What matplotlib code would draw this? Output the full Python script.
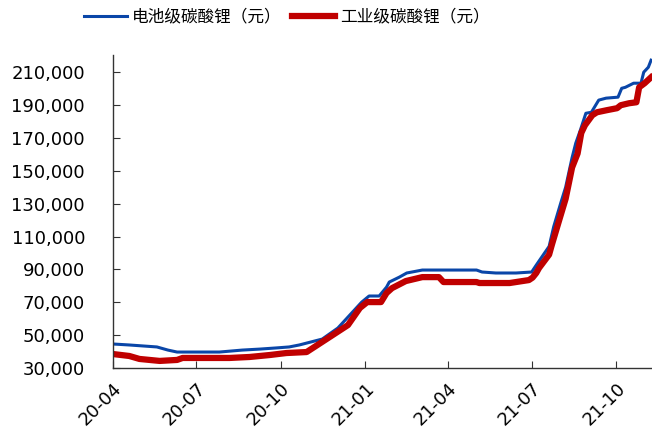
import matplotlib
matplotlib.use("Agg")
import matplotlib.pyplot as plt
import matplotlib.dates as mdates
import pandas as pd

plt.rcParams["font.family"] = ["DejaVu Sans"]

# 电池级碳酸锂 (battery grade)
blue_dates = ["2020-04-01", "2020-04-19", "2020-05-04", "2020-05-19", "2020-05-31",
              "2020-06-10", "2020-07-26", "2020-08-20", "2020-09-08", "2020-09-26",
              "2020-10-10", "2020-10-21", "2020-11-15", "2020-12-02", "2020-12-17",
              "2020-12-28", "2021-01-05", "2021-01-16", "2021-01-24", "2021-01-27",
              "2021-02-07", "2021-02-15", "2021-03-04", "2021-05-02", "2021-05-08",
              "2021-05-23", "2021-06-14", "2021-07-01", "2021-07-06", "2021-07-12",
              "2021-07-20", "2021-07-25", "2021-08-02", "2021-08-07", "2021-08-14",
              "2021-08-18", "2021-08-23", "2021-08-29", "2021-09-04", "2021-09-12",
              "2021-09-20", "2021-10-03", "2021-10-07", "2021-10-11", "2021-10-20",
              "2021-10-28", "2021-10-31", "2021-11-05", "2021-11-08"]
blue_vals = [44600, 44000, 43400, 42800, 40900,
             39700, 39700, 40900, 41500, 42200,
             42800, 44000, 47600, 54300, 63400,
             70100, 73800, 73800, 79200, 82300,
             85300, 87800, 89600, 89600, 88400,
             87800, 87800, 88400, 92600, 97500,
             104000, 116000, 131000, 140000, 158000,
             166800, 174700, 185000, 185600, 193000,
             194200, 194800, 200200, 200800, 203300,
             203300, 210000, 213000, 217300]

# 工业级碳酸锂 (industrial grade)
red_dates = ["2020-04-01", "2020-04-19", "2020-04-30", "2020-05-22", "2020-06-10",
             "2020-06-16", "2020-08-06", "2020-08-28", "2020-09-19", "2020-10-07",
             "2020-10-29", "2020-11-23", "2020-12-13", "2020-12-26", "2021-01-03",
             "2021-01-18", "2021-01-24", "2021-01-30", "2021-02-14", "2021-03-04",
             "2021-03-22", "2021-03-27", "2021-05-02", "2021-05-05", "2021-06-07",
             "2021-06-28", "2021-07-02", "2021-07-06", "2021-07-09", "2021-07-20",
             "2021-07-23", "2021-07-31", "2021-08-07", "2021-08-14", "2021-08-20",
             "2021-08-24", "2021-08-28", "2021-09-05", "2021-09-10", "2021-09-21",
             "2021-10-02", "2021-10-06", "2021-10-15", "2021-10-23", "2021-10-26",
             "2021-11-01", "2021-11-08"]
red_vals = [38500, 37300, 35500, 34300, 34900,
            36100, 36100, 36700, 37900, 39100,
            39700, 48800, 56100, 66500, 70100,
            70100, 75600, 78600, 82900, 85300,
            85300, 82300, 82300, 81700, 81700,
            83500, 85000, 87800, 90800, 99000,
            105000, 120000, 133000, 152000, 160500,
            173000, 177700, 183800, 185600, 186900,
            188100, 189900, 191100, 191700, 200800,
            203300, 206900]

yticks = list(range(30000, 220000, 20000))
xticks = ["2020-04-01", "2020-07-01", "2020-10-01", "2021-01-01",
          "2021-04-01", "2021-07-01", "2021-10-01"]

fig = plt.figure(figsize=(6.52, 4.36), dpi=100)
ax = fig.add_axes([0.173, 0.156, 0.827, 0.718])

l1, = ax.plot(pd.to_datetime(blue_dates), blue_vals, color="#0A46A8", lw=2.2,
              label="电池级碳酸锂（元）")
l2, = ax.plot(pd.to_datetime(red_dates), red_vals, color="#C00000", lw=4.5,
              label="工业级碳酸锂（元）")

ax.set_xlim(pd.Timestamp("2020-04-01"), pd.Timestamp("2021-11-09"))
ax.set_ylim(30000, 220500)
ax.set_yticks(yticks)
ax.yaxis.set_major_formatter(matplotlib.ticker.FuncFormatter(lambda v, p: f"{int(v):,}"))
ax.set_xticks(pd.to_datetime(xticks))
ax.xaxis.set_major_formatter(mdates.DateFormatter("%y-%m"))

for s in ["top", "right"]:
    ax.spines[s].set_visible(False)
for s in ["left", "bottom"]:
    ax.spines[s].set_color("#333333")
    ax.spines[s].set_linewidth(1.0)

ax.tick_params(axis="y", direction="in", length=5, pad=20, labelsize=13, colors="#333333",
               labelcolor="black")
ax.tick_params(axis="x", direction="in", length=5, pad=8, labelsize=13, colors="#333333",
               labelcolor="black")
for lab in ax.get_xticklabels():
    lab.set_rotation(45)
    lab.set_ha("right")
    lab.set_va("top")
    lab.set_rotation_mode("anchor")

fig.legend(handles=[l1, l2], loc="center", bbox_to_anchor=(0.44, 0.961), ncol=2,
           frameon=False, handlelength=2.6, handletextpad=0.3, columnspacing=0.6,
           prop={"family": ["Noto Sans CJK SC", "DejaVu Sans"], "size": 12})

fig.savefig("out.png", dpi=100)
